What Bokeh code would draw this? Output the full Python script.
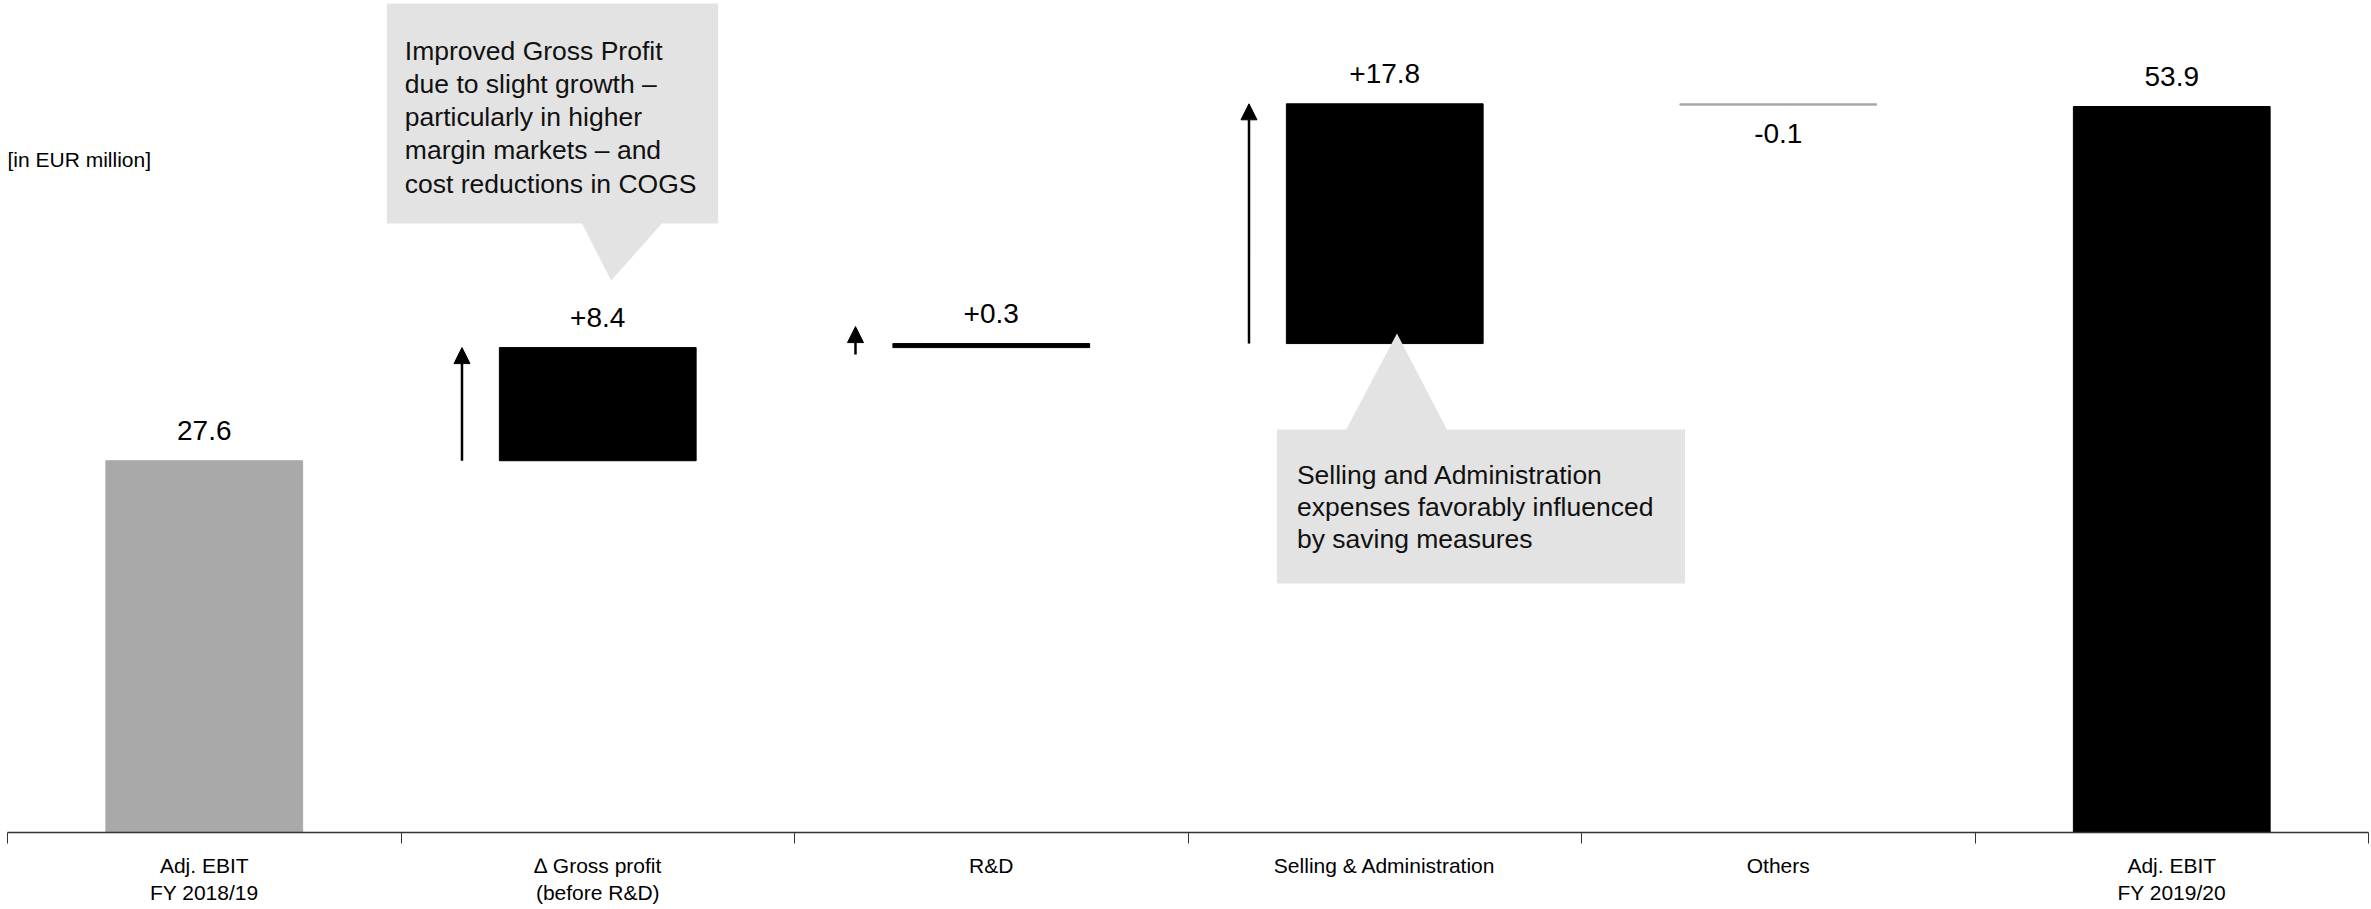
from bokeh.plotting import figure
from bokeh.models import Range1d, FixedTicker, Arrow, NormalHead, ColumnDataSource
from bokeh.core.properties import value
from bokeh.embed import file_html
from bokeh.resources import INLINE

# ---------------- data ----------------
categories = ["Adj. EBIT\nFY 2018/19", "\u2206 Gross profit\n(before R&D)", "R&D",
              "Selling & Administration", "Others", "Adj. EBIT\nFY 2019/20"]
values = [27.6, 8.4, 0.3, 17.8, -0.1, 53.9]
kinds = ["total", "delta", "delta", "delta", "delta", "total"]
value_labels = ["27.6", "+8.4", "+0.3", "+17.8", "-0.1", "53.9"]
unit_label = "[in EUR million]"
note_gross = ["Improved Gross Profit", "due to slight growth \u2013", "particularly in higher",
              "margin markets \u2013 and", "cost reductions in COGS"]
note_sga = ["Selling and Administration", "expenses favorably influenced", "by saving measures"]

# ---------------- layout ----------------
W, H = 2371, 909
B_LEFT, B_RIGHT, B_TOP, B_BOTTOM = 7, 3, 0, 77
FRAME_W = W - B_LEFT - B_RIGHT
FRAME_H = H - B_TOP - B_BOTTOM
Y_MAX = 61.77
PX_Y = FRAME_H / Y_MAX
PX_X = FRAME_W / len(categories)
FONT = "Liberation Sans"
GREY = "#a9a9a9"
NOTE_FILL = "#e3e3e3"


def dy(px):
    return px / PX_Y


def dx(px):
    return px / PX_X


# waterfall geometry
xs = list(range(len(categories)))
bottoms, tops, colors = [], [], []
running = 0.0
for i, (v, k) in enumerate(zip(values, kinds)):
    if k == "total":
        b, t = 0.0, v
        running = v
        colors.append(GREY if i == 0 else "black")
    else:
        b, t = running, running + v
        running = running + v
        colors.append("black" if v >= 0 else GREY)
    bottoms.append(min(b, t))
    tops.append(max(b, t))

p = figure(width=W, height=H, x_range=Range1d(-0.5, len(categories) - 0.5),
           y_range=Range1d(0, Y_MAX), output_backend="svg", toolbar_location=None,
           y_axis_location=None, min_border_left=B_LEFT, min_border_right=B_RIGHT,
           min_border_top=B_TOP, min_border_bottom=B_BOTTOM)
p.outline_line_color = None
p.xgrid.visible = False
p.ygrid.visible = False
p.background_fill_color = "white"

src = ColumnDataSource(dict(x=xs, bottom=bottoms, top=tops, color=colors))
p.vbar(x="x", width=0.5, bottom="bottom", top="top", fill_color="color",
       line_color="color", line_width=1, source=src)

# axis
ax = p.xaxis[0]
ax.ticker = FixedTicker(ticks=xs, minor_ticks=[x - 0.5 for x in xs] + [xs[-1] + 0.5])
ax.major_label_overrides = {i: c for i, c in zip(xs, categories)}
ax.axis_line_color = "#333333"
ax.axis_line_width = 1.5
ax.major_tick_line_color = None
ax.major_tick_in = 0
ax.major_tick_out = 11
ax.minor_tick_line_color = "#333333"
ax.minor_tick_line_width = 1
ax.minor_tick_in = 0
ax.minor_tick_out = 11
ax.major_label_standoff = 10
ax.major_label_text_font = FONT
ax.major_label_text_font_size = "21px"
ax.major_label_text_color = "black"
ax.major_label_text_line_height = 1.2

# arrows for positive deltas
for i, (v, k) in enumerate(zip(values, kinds)):
    if k != "delta" or v <= 0:
        continue
    ax_x = xs[i] - 0.25 - 0.095
    start, end = bottoms[i], tops[i]
    if end - start < dy(28):
        start = bottoms[i] - dy(7)
        end = start + dy(28)
    p.add_layout(Arrow(end=NormalHead(size=16, fill_color="black", line_color="black"),
                       x_start=ax_x, y_start=start, x_end=ax_x, y_end=end,
                       line_color="black", line_width=2.5))

# value labels
lab_x, lab_y, lab_t = [], [], []
for i, (v, k) in enumerate(zip(values, kinds)):
    lab_x.append(xs[i])
    lab_t.append(value_labels[i])
    if v >= 0:
        lab_y.append(tops[i] + dy(30))
    else:
        lab_y.append(bottoms[i] - dy(28))
p.text(x=lab_x, y=lab_y, text=lab_t, text_align="center",
       text_baseline="alphabetic", text_font=value(FONT), text_font_size="28px",
       text_color="black")

# unit label
p.text(x=[-0.5], y=[dy(832 - 159)], text=[unit_label], text_align="left",
       text_baseline="middle", text_font=value(FONT), text_font_size="21px",
       text_color="black")


# callouts
def callout(anchor, lines, box_l, box_r, box_b, box_t, base_l, base_r, tip_x, tip_y, pointer_down,
            pad_x, first_px, spacing_px):
    x0, x1 = anchor + box_l, anchor + box_r
    bl, br, tx = anchor + base_l, anchor + base_r, anchor + tip_x
    if pointer_down:
        px_ = [x0, x1, x1, br, tx, bl, x0]
        py_ = [box_t, box_t, box_b, box_b, tip_y, box_b, box_b]
    else:
        px_ = [x0, x1, x1, br, tx, bl, x0]
        py_ = [box_b, box_b, box_t, box_t, tip_y, box_t, box_t]
    p.patch(px_, py_, fill_color=NOTE_FILL, line_color=None)
    ty = [box_t - dy(first_px + j * spacing_px) for j in range(len(lines))]
    p.text(x=[x0 + dx(pad_x)] * len(lines), y=ty, text=lines, text_align="left",
           text_baseline="middle", text_font=value(FONT), text_font_size="26.5px",
           text_color="#111111")


g = 1  # gross profit
callout(xs[g], note_gross, -0.536, 0.306, tops[g] + dy(124), Y_MAX - dy(3),
        -0.040, 0.163, 0.034, tops[g] + dy(67), True, 18, 47, 33.3)
s = 3  # selling & administration
callout(xs[s], note_sga, -0.274, 0.763, bottoms[s] - dy(240), bottoms[s] - dy(86),
        -0.098, 0.158, 0.031, bottoms[s] + dy(10), False, 20, 45, 32.3)

open("out.html", "w").write(file_html(p, INLINE))
